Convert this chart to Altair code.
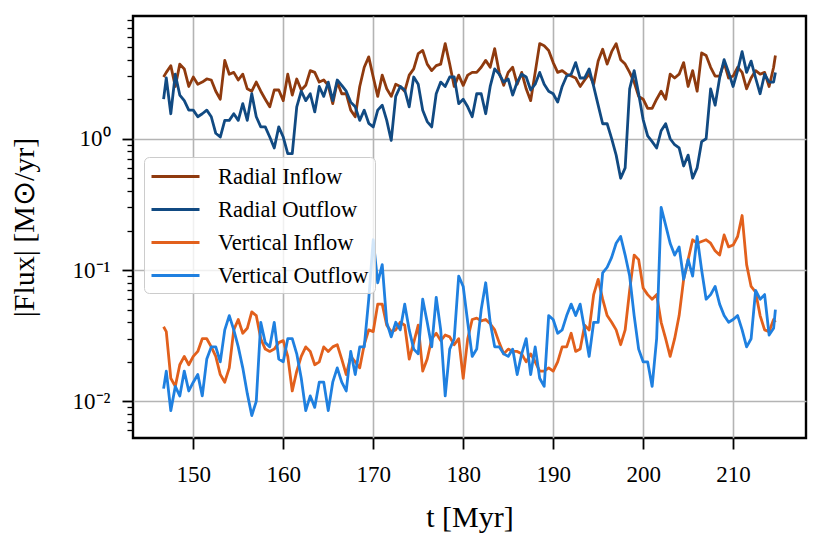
import altair as alt
import pandas as pd

# time axis [Myr]
t = [146.7,
     147.0, 147.5, 148.0, 148.5, 149.0, 149.5, 150.0, 150.5, 151.0, 151.5,
     152.0, 152.5, 153.0, 153.5, 154.0, 154.5, 155.0, 155.5, 156.0, 156.5,
     157.0, 157.5, 158.0, 158.5, 159.0, 159.5, 160.0, 160.5, 161.0, 161.5,
     162.0, 162.5, 163.0, 163.5, 164.0, 164.5, 165.0, 165.5, 166.0, 166.5,
     167.0, 167.5, 168.0, 168.5, 169.0, 169.5, 170.0, 170.5, 171.0, 171.5,
     172.0, 172.5, 173.0, 173.5, 174.0, 174.5, 175.0, 175.5, 176.0, 176.5,
     177.0, 177.5, 178.0, 178.5, 179.0, 179.5, 180.0, 180.5, 181.0, 181.5,
     182.0, 182.5, 183.0, 183.5, 184.0, 184.5, 185.0, 185.5, 186.0, 186.5,
     187.0, 187.5, 188.0, 188.5, 189.0, 189.5, 190.0, 190.5, 191.0, 191.5,
     192.0, 192.5, 193.0, 193.5, 194.0, 194.5, 195.0, 195.5, 196.0, 196.5,
     197.0, 197.5, 198.0, 198.5, 199.0, 199.5, 200.0, 200.5, 201.0, 201.5,
     202.0, 202.5, 203.0, 203.5, 204.0, 204.5, 205.0, 205.5, 206.0, 206.5,
     207.0, 207.5, 208.0, 208.5, 209.0, 209.5, 210.0, 210.5, 211.0, 211.5,
     212.0, 212.5, 213.0, 213.5, 214.0, 214.5,
     214.7]

radial_inflow = [2.95,
     3.2, 3.6, 2.5, 3.7, 3.4, 2.5, 2.95, 2.6, 2.7, 2.85,
     2.8, 2.3, 2.0, 3.95, 3.1, 3.2, 2.8, 3.1, 2.4, 2.3,
     2.7, 2.3, 2.0, 1.75, 2.35, 2.35, 1.95, 3.1, 2.15, 2.85,
     2.35, 2.55, 3.3, 3.2, 2.7, 2.8, 2.55, 1.85, 2.7, 2.2,
     2.2, 1.65, 1.47, 2.5, 3.5, 4.2, 2.95, 2.1, 3.05, 2.4,
     2.1, 2.6, 2.5, 2.3, 3.05, 3.4, 4.45, 4.7, 3.7, 3.3,
     3.6, 3.7, 5.3, 3.7, 2.5, 3.05, 2.55, 3.05, 3.2, 3.2,
     3.5, 3.95, 3.5, 4.85, 3.2, 2.55, 3.2, 3.5, 2.6, 3.2,
     2.4, 1.95, 3.2, 5.3, 5.1, 4.7, 3.8, 3.2, 3.3, 3.1,
     3.0, 2.9, 2.5, 2.8, 3.1, 2.6, 3.9, 4.8, 3.7, 4.6,
     5.3, 4.0, 3.7, 3.2, 2.7, 2.1, 2.0, 1.7, 1.7, 2.0,
     2.3, 2.0, 3.1, 2.9, 3.1, 3.8, 2.5, 3.3, 2.3, 4.5,
     4.3, 3.5, 3.0, 3.0, 3.8, 2.9, 3.0, 3.5, 3.2, 2.4,
     2.9, 3.3, 3.1, 3.2, 2.5, 3.5,
     4.3]

radial_outflow = [2.0,
     2.9, 1.55, 3.1, 2.15, 1.95, 1.65, 1.65, 1.47, 1.55, 1.65,
     1.47, 1.10, 1.03, 1.38, 1.38, 1.55, 1.38, 1.85, 1.38, 2.2,
     1.47, 1.23, 1.23, 1.03, 0.85, 1.23, 1.03, 0.77, 0.77, 1.75,
     2.3, 1.95, 2.2, 1.6, 2.5, 2.1, 2.7, 1.95, 2.8, 2.55,
     2.3, 1.9, 1.75, 1.38, 1.65, 1.31, 1.23, 1.65, 1.8, 1.38,
     0.97, 2.1, 2.5, 2.35, 1.75, 2.95, 2.6, 1.65, 1.35, 1.23,
     2.2, 2.7, 2.5, 2.95, 2.95, 1.85, 2.0, 1.75, 1.47, 2.2,
     2.2, 1.55, 2.5, 3.4, 3.1, 2.7, 2.85, 2.15, 2.7, 3.1,
     2.95, 2.35, 2.6, 3.2, 2.6, 2.3, 2.2, 1.9, 2.5, 3.0,
     3.1, 3.8, 2.9, 2.9, 3.4, 2.5, 1.8, 1.3, 1.3, 1.0,
     0.75, 0.5, 0.6, 2.4, 3.3, 2.2, 1.4, 1.05, 0.95, 0.85,
     1.15, 1.3, 1.0, 0.9, 0.85, 0.62, 0.75, 0.5, 0.6, 0.95,
     1.0, 2.4, 1.8, 2.9, 4.0, 3.2, 2.5, 3.3, 4.6, 3.2,
     3.9, 2.9, 2.2, 3.1, 2.7, 2.7,
     3.2]

vertical_inflow = [0.037,
     0.034, 0.015, 0.013, 0.019, 0.022, 0.019, 0.022, 0.024, 0.030, 0.030,
     0.026, 0.022, 0.016, 0.014, 0.018, 0.035, 0.042, 0.033, 0.036, 0.048,
     0.045, 0.030, 0.025, 0.024, 0.025, 0.028, 0.029, 0.022, 0.012, 0.017,
     0.022, 0.026, 0.024, 0.019, 0.020, 0.026, 0.024, 0.026, 0.027, 0.021,
     0.016, 0.022, 0.020, 0.018, 0.027, 0.035, 0.034, 0.055, 0.055, 0.038,
     0.034, 0.035, 0.040, 0.038, 0.021, 0.028, 0.038, 0.017, 0.021, 0.030,
     0.033, 0.029, 0.032, 0.031, 0.027, 0.030, 0.015, 0.030, 0.042, 0.043,
     0.041, 0.042, 0.039, 0.035, 0.028, 0.023, 0.025, 0.024, 0.024, 0.023,
     0.020, 0.023, 0.020, 0.017, 0.017, 0.018, 0.017, 0.020, 0.026, 0.026,
     0.033, 0.024, 0.025, 0.038, 0.035, 0.065, 0.085, 0.060, 0.045, 0.040,
     0.035, 0.027, 0.035, 0.070, 0.130, 0.120, 0.073, 0.065, 0.060, 0.065,
     0.040, 0.030, 0.022, 0.030, 0.045, 0.085, 0.120, 0.170, 0.160, 0.165,
     0.170, 0.160, 0.140, 0.130, 0.185, 0.150, 0.155, 0.180, 0.260, 0.110,
     0.075, 0.068, 0.045, 0.035, 0.034, 0.042,
     0.040]

vertical_outflow = [0.0125,
     0.017, 0.0085, 0.013, 0.011, 0.017, 0.012, 0.014, 0.016, 0.011, 0.021,
     0.026, 0.026, 0.020, 0.035, 0.045, 0.035, 0.026, 0.018, 0.0115, 0.0078,
     0.010, 0.040, 0.028, 0.026, 0.040, 0.021, 0.020, 0.030, 0.030, 0.023,
     0.015, 0.0085, 0.011, 0.009, 0.014, 0.014, 0.0085, 0.014, 0.018, 0.014,
     0.012, 0.024, 0.016, 0.026, 0.026, 0.060, 0.170, 0.080, 0.110, 0.040,
     0.031, 0.040, 0.035, 0.055, 0.035, 0.025, 0.023, 0.060, 0.040, 0.026,
     0.062, 0.035, 0.011, 0.025, 0.030, 0.090, 0.075, 0.040, 0.022, 0.025,
     0.050, 0.080, 0.040, 0.026, 0.026, 0.023, 0.022, 0.025, 0.016, 0.023,
     0.030, 0.016, 0.026, 0.015, 0.013, 0.045, 0.042, 0.033, 0.035, 0.045,
     0.055, 0.045, 0.055, 0.035, 0.022, 0.040, 0.040, 0.095, 0.105, 0.125,
     0.160, 0.180, 0.130, 0.090, 0.045, 0.025, 0.020, 0.020, 0.013, 0.030,
     0.300, 0.220, 0.160, 0.130, 0.150, 0.085, 0.120, 0.090, 0.180, 0.100,
     0.060, 0.065, 0.075, 0.055, 0.045, 0.040, 0.042, 0.045, 0.035, 0.026,
     0.030, 0.070, 0.060, 0.065, 0.032, 0.036,
     0.050]

series_names = ["Radial Inflow", "Radial Outflow", "Vertical Inflow", "Vertical Outflow"]
series_colors = ["#8f3a0e", "#114a82", "#e2601c", "#1f80e0"]

x_ticks = [150, 160, 170, 180, 190, 200, 210]
y_ticks = [0.006, 0.007, 0.008, 0.009,
           0.01, 0.02, 0.03, 0.04, 0.05, 0.06, 0.07, 0.08, 0.09,
           0.1, 0.2, 0.3, 0.4, 0.5, 0.6, 0.7, 0.8, 0.9,
           1, 2, 3, 4, 5, 6, 7, 8]

rows = []
for name, vals in zip(series_names, [radial_inflow, radial_outflow, vertical_inflow, vertical_outflow]):
    for tt, v in zip(t, vals):
        rows.append({"t": tt, "flux": v, "series": name})
df = pd.DataFrame(rows)

FONT = "Liberation Serif"
major = "abs(log(datum.value)/LN10 - round(log(datum.value)/LN10)) < 0.001"
label_expr = ("abs(datum.value - 1) < 1e-9 ? '10\u2070' : "
              "(abs(datum.value - 0.1) < 1e-9 ? '10\u207b\u00b9' : "
              "(abs(datum.value - 0.01) < 1e-9 ? '10\u207b\u00b2' : ''))")

x_axis = alt.Axis(
    values=x_ticks, title="t [Myr]",
    titleFont=FONT, titleFontSize=30, titleFontWeight="normal", titleColor="black",
    titleX=336.5, titleY=88, titleBaseline="alphabetic", titleAlign="center",
    labelFont=FONT, labelFontSize=23, labelColor="black", labelPadding=14,
    labelFlush=False, labelOverlap=False,
    tickSize=11, tickWidth=1.8, tickColor="black",
    grid=True, gridColor="#b4b4b4", gridWidth=1.6, domain=False,
)

y_axis = alt.Axis(
    values=y_ticks, labelExpr=label_expr, title="|Flux| [M\u2299/yr]",
    titleFont=FONT, titleFontSize=30, titleFontWeight="normal", titleColor="black",
    titleX=-100, titleY=211, titleAngle=270, titleBaseline="alphabetic", titleAlign="center",
    labelFont=FONT, labelFontSize=23, labelColor="black", labelPadding=12,
    labelFlush=False, labelOverlap=False,
    tickSize={"condition": {"test": major, "value": 11}, "value": 6},
    tickWidth={"condition": {"test": major, "value": 1.8}, "value": 1.3},
    tickColor="black",
    grid=True, gridColor="#b4b4b4", gridWidth=1.6,
    gridOpacity={"condition": {"test": major, "value": 1}, "value": 0},
    domain=False,
)

legend = alt.Legend(
    title=None, orient="none", legendX=11, legendY=141,
    fillColor="rgba(255,255,255,0.8)", strokeColor="#cccccc", cornerRadius=5,
    padding=6, rowPadding=8,
    labelFont=FONT, labelFontSize=22.5, labelColor="black", labelOffset=41, labelLimit=0,
    symbolType="M-1,0H3", symbolSize=576, symbolStrokeWidth=2.8,
)

chart = alt.Chart(df).mark_line(strokeWidth=2.8, strokeJoin="round").encode(
    x=alt.X("t:Q", scale=alt.Scale(domain=[143.3, 218.1], nice=False, zero=False), axis=x_axis),
    y=alt.Y("flux:Q", scale=alt.Scale(type="log", domain=[0.00526, 8.6], nice=False), axis=y_axis),
    color=alt.Color("series:N", scale=alt.Scale(domain=series_names, range=series_colors), legend=legend),
).properties(
    width=673, height=422,
    autosize=alt.AutoSizeParams(type="none"),
    padding={"left": 125, "top": 8, "right": 17, "bottom": 100},
    background="white",
).configure_view(stroke="black", strokeWidth=2.4)

chart.save("out.html", embed_options={"renderer": "svg", "actions": False})
